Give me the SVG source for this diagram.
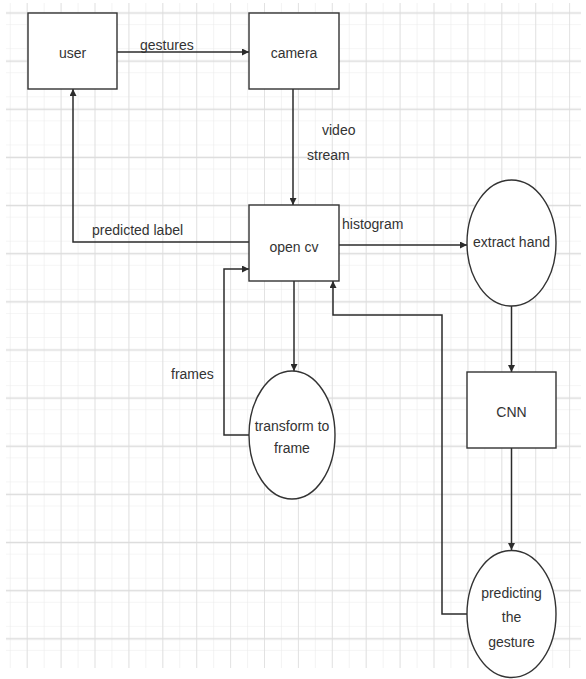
<svg xmlns="http://www.w3.org/2000/svg" width="586" height="679" viewBox="0 0 586 679">
<defs>
<marker id="ah" viewBox="0 0 10 10" refX="10" refY="5" markerWidth="7" markerHeight="7" markerUnits="userSpaceOnUse" orient="auto">
<path d="M0,0 L10,5 L0,10 z" fill="#2b2b2b"/>
</marker>
<pattern id="gridMinor" x="10.75" y="1" width="16.95" height="24.07" patternUnits="userSpaceOnUse">
<path d="M16.95,0 V24.07 M0,24.07 H16.95" fill="none" stroke="#ececec" stroke-width="1.2"/>
</pattern>
<pattern id="gridMajor" x="-6.2" y="-11.07" width="33.9" height="48.14" patternUnits="userSpaceOnUse">
<path d="M33.9,0 V48.14 M0,24.07 H33.9" fill="none" stroke="#dcdcdc" stroke-width="1.4"/>
</pattern>
</defs>
<style>
.box{fill:#fff;stroke:#333;stroke-width:1.4}
.edge{fill:none;stroke:#2b2b2b;stroke-width:1.5}
.t{font-family:"Liberation Sans",Arial,sans-serif;font-size:14px;fill:#333}
.c{text-anchor:middle}
</style>
<rect width="586" height="679" fill="#fff"/>
<rect x="6" y="3" width="575" height="665" fill="url(#gridMinor)"/>
<rect x="6" y="3" width="575" height="665" fill="url(#gridMajor)"/>
<g id="connectors">
<path class="edge" d="M117,52 H249" marker-end="url(#ah)"/>
<path class="edge" d="M293,89 V205" marker-end="url(#ah)"/>
<path class="edge" d="M249,242 H73 V89" marker-end="url(#ah)"/>
<path class="edge" d="M339,245 H467" marker-end="url(#ah)"/>
<path class="edge" d="M294,281 V371" marker-end="url(#ah)"/>
<path class="edge" d="M249,435 H224 V269 H249" marker-end="url(#ah)"/>
<path class="edge" d="M511.5,306 V372" marker-end="url(#ah)"/>
<path class="edge" d="M511.5,448 V550" marker-end="url(#ah)"/>
<path class="edge" d="M467,614 H442 V315 H333 V281" marker-end="url(#ah)"/>
<text class="t" x="140" y="50">gestures</text>
<text class="t" x="322" y="135">video</text>
<text class="t" x="307" y="160">stream</text>
<text class="t" x="92" y="235">predicted label</text>
<text class="t" x="342" y="229">histogram</text>
<text class="t" x="171" y="379">frames</text>
</g>
<g id="user">
<rect class="box" x="28" y="13" width="89" height="76"/>
<text class="t c" x="72.5" y="58">user</text>
</g>
<g id="camera">
<rect class="box" x="249" y="13" width="90" height="76"/>
<text class="t c" x="294" y="58">camera</text>
</g>
<g id="opencv">
<rect class="box" x="249" y="205" width="90" height="76"/>
<text class="t c" x="294" y="252">open cv</text>
</g>
<g id="extracthand">
<ellipse class="box" cx="511.5" cy="243" rx="44.5" ry="63"/>
<text class="t c" x="511.5" y="247">extract hand</text>
</g>
<g id="cnn">
<rect class="box" x="467" y="372" width="89" height="76"/>
<text class="t c" x="511.5" y="417">CNN</text>
</g>
<g id="transform">
<ellipse class="box" cx="292" cy="435" rx="43" ry="64"/>
<text class="t c" x="292" y="431">transform to</text>
<text class="t c" x="292" y="453">frame</text>
</g>
<g id="predicting">
<ellipse class="box" cx="511.5" cy="614" rx="44.5" ry="63.5"/>
<text class="t c" x="511.5" y="598">predicting</text>
<text class="t c" x="511.5" y="622">the</text>
<text class="t c" x="511.5" y="647">gesture</text>
</g>
</svg>
